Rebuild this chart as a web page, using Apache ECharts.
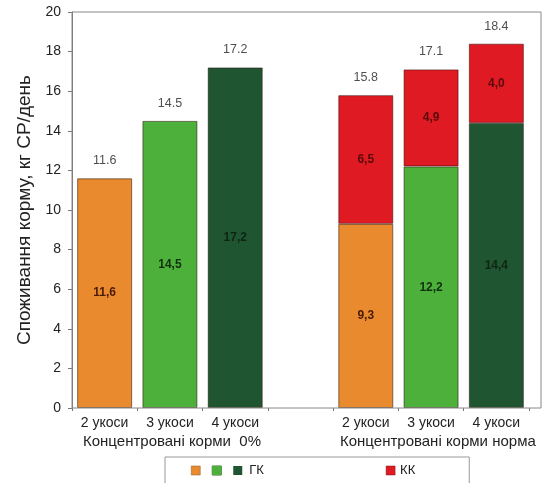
<!DOCTYPE html>
<html>
<head>
<meta charset="utf-8">
<script src="https://cdn.jsdelivr.net/npm/echarts@6/dist/echarts.min.js"></script>
<style>
  html, body { margin: 0; padding: 0; background: #ffffff; }
  #chart { width: 546px; height: 483px; }
</style>
</head>
<body>
<div id="chart"></div>
<script>
// Cuttings per season; the empty slot separates the two concentrate levels
const categories = ['2 укоси', '3 укоси', '4 укоси', '', '2 укоси', '3 укоси', '4 укоси'];
const groupLabels = ['Концентровані корми  0%', 'Концентровані корми норма'];

// Feed intake, kg DM/day
const gkValues = [11.6, 14.5, 17.2, null, 9.3, 12.2, 14.4];   // ГК (roughage)
const kkValues = [null, null, null, null, 6.5, 4.9, 4.0];     // КК (concentrates)
const totals   = [11.6, 14.5, 17.2, null, 15.8, 17.1, 18.4];

const yTicks = { min: 0, max: 20, interval: 2 };

// Colours by number of cuttings
const gkColors = ['#E98A2E', '#4DB03A', '#1F5531', null, '#E98A2E', '#4DB03A', '#1F5531'];
const gkLabelColors = ['#4a1a08', '#12300f', '#0f2514', null, '#4a1a08', '#12300f', '#0f2514'];
const kkColor = '#E01A22';

const FONT = '"Liberation Sans", Arial, sans-serif';
const comma = v => v.toFixed(1).replace('.', ',');

const chart = echarts.init(document.getElementById('chart'), null, { renderer: 'canvas' });

const plot = { left: 72, top: 12, width: 457, height: 396, frameRight: 541 };

chart.setOption({
  backgroundColor: '#ffffff',
  animation: false,
  grid: { left: plot.left, top: plot.top, width: plot.width, height: plot.height },
  xAxis: {
    type: 'category',
    data: categories,
    axisLine: { show: false },
    axisTick: { show: true, length: 3, lineStyle: { color: '#777' } },
    axisLabel: { color: '#222', fontFamily: FONT, fontSize: 14, margin: 8 }
  },
  yAxis: {
    type: 'value',
    min: yTicks.min, max: yTicks.max, interval: yTicks.interval,
    name: 'Споживання корму, кг СР/день',
    nameLocation: 'middle',
    nameGap: 36,
    nameTextStyle: { color: '#222', fontFamily: FONT, fontSize: 19 },
    axisLine: { show: true, lineStyle: { color: '#777' } },
    axisTick: { show: true, length: 4, lineStyle: { color: '#777' } },
    axisLabel: { color: '#222', fontFamily: FONT, fontSize: 14, margin: 11 },
    splitLine: { show: false }
  },
  legend: {
    left: 165, top: 457,
    padding: [7, 54, 20, 26],
    borderColor: '#999', borderWidth: 1,
    itemWidth: 9, itemHeight: 9, itemGap: 122,
    data: [
      { name: 'ГК', icon: 'rect', itemStyle: { color: gkColors[0], borderColor: '#8a5a2a', borderWidth: 0.5 } },
      { name: 'КК', icon: 'rect', itemStyle: { borderColor: '#7a1a1a', borderWidth: 0.5 } }
    ],
    formatter: name => name === 'ГК' ? '{s1|}{g|}{s2|}{d|}{t|ГК}' : name,
    textStyle: {
      color: '#222', fontFamily: FONT, fontSize: 13,
      rich: {
        s1: { width: 7, height: 9 },
        s2: { width: 12, height: 9 },
        g: { width: 9, height: 9, backgroundColor: gkColors[1], borderColor: '#2a6a2a', borderWidth: 0.5 },
        d: { width: 9, height: 9, backgroundColor: gkColors[2] },
        t: { fontFamily: FONT, fontSize: 13, color: '#222', padding: [0, 0, 0, 7] }
      }
    }
  },
  graphic: [
    {
      type: 'rect', silent: true, z: 10,
      shape: { x: plot.left, y: plot.top, width: plot.frameRight - plot.left, height: plot.height },
      style: { fill: 'none', stroke: '#888', lineWidth: 1 }
    },
    {
      type: 'text', left: 83, top: 434,
      style: { text: groupLabels[0], fill: '#222', font: '15px ' + FONT }
    },
    {
      type: 'text', left: 340, top: 434,
      style: { text: groupLabels[1], fill: '#222', font: '15px ' + FONT }
    }
  ],
  series: [
    {
      name: 'ГК', type: 'bar', stack: 'feed', barWidth: 55,
      data: gkValues.map((v, i) => v == null ? null : {
        value: v,
        itemStyle: { color: gkColors[i] },
        label: { color: gkLabelColors[i] }
      }),
      itemStyle: { borderColor: 'rgba(40,20,10,0.55)', borderWidth: 1 },
      label: {
        show: true, position: 'inside', fontFamily: FONT, fontSize: 12, fontWeight: 'bold',
        formatter: p => comma(p.value)
      }
    },
    {
      name: 'КК', type: 'bar', stack: 'feed', barWidth: 55,
      data: kkValues,
      itemStyle: { color: kkColor, borderColor: 'rgba(60,10,10,0.55)', borderWidth: 1 },
      label: {
        show: true, position: 'inside', fontFamily: FONT, fontSize: 12, fontWeight: 'bold',
        color: '#5a0a0a',
        formatter: p => comma(p.value)
      }
    },
    {
      name: 'Разом', type: 'scatter', symbolSize: 0,
      data: totals,
      label: {
        show: true, position: 'top', distance: 11,
        color: '#222', fontFamily: FONT, fontSize: 12.5,
        formatter: p => p.value.toFixed(1)
      },
      silent: true
    }
  ]
});
</script>
</body>
</html>
